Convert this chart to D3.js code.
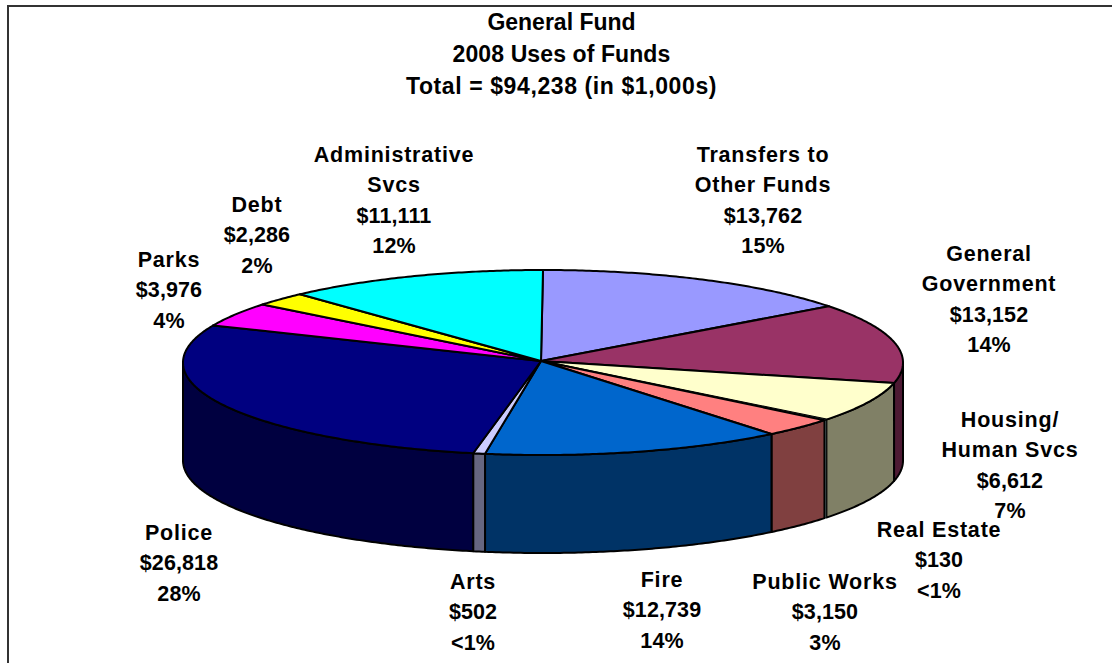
<!DOCTYPE html>
<html><head><meta charset="utf-8">
<script src="https://cdn.jsdelivr.net/npm/d3@7"></script>
<style>html,body{margin:0;padding:0;background:#fff}svg{display:block}
text{font-family:"Liberation Sans",Arial,sans-serif;font-weight:700;fill:#000;text-anchor:middle;dominant-baseline:central}</style>
</head><body><svg id="c" width="1112" height="663"></svg>
<script>
const titleLines=["General Fund","2008 Uses of Funds","Total = $94,238 (in $1,000s)"];
const titleSpacing=[0,0.1,0.6];
const categories=["Transfers to Other Funds","General Government","Housing/ Human Svcs","Real Estate","Public Works","Fire","Arts","Police","Parks","Debt","Administrative Svcs"];
const values=[13762,13152,6612,130,3150,12739,502,26818,3976,2286,11111];
const percents=["15%","14%","7%","<1%","3%","14%","<1%","28%","4%","2%","12%"];
const labelLines=[["Transfers to","Other Funds"],["General","Government"],["Housing/","Human Svcs"],["Real Estate"],["Public Works"],["Fire"],["Arts"],["Police"],["Parks"],["Debt"],["Administrative","Svcs"]];
const topColors=["#9999FF","#993366","#FFFFCC","#CCFFFF","#FF8080","#0066CC","#CCCCFF","#000080","#FF00FF","#FFFF00","#00FFFF"];
const wallColors=["#4D4D80","#4D1A33","#808066","#668080","#804040","#003366","#666680","#000040","#800080","#808000","#008080"];
const labelPos=[[763,155],[989,254],[1010,420],[939,530],[825,582],[662,580],[473,582],[179,533],[169,260],[257,205],[394,155]];

const apexX=541,apexY=361,cx=543,cy=362.5,rx=360,ry=92.5,depth=98,lineH=30.3;
const svg=d3.select("#c");
svg.append("path").attr("d",d3.line()([[8,663],[8,6],[1112,6]])).attr("fill","none").attr("stroke","#333").attr("stroke-width",2);

const slices=d3.pie().sort(null).value(d=>d)(values);
const px=d3.scaleLinear().domain([-1,1]).range([cx-rx,cx+rx]);
const py=d3.scaleLinear().domain([-1,1]).range([cy-ry,cy+ry]);
const pt=(a,dz=0)=>[px(Math.sin(a)),py(-Math.cos(a))+dz];
const samples=(a0,a1)=>{const n=Math.max(2,Math.ceil(Math.abs(a1-a0)/0.01));return d3.range(n+1).map(i=>a0+(a1-a0)*i/n)};
const line=d3.line();
const thinIndex=categories.indexOf("Real Estate");
const strokeW=i=>i===thinIndex?0.8:2;

const wallG=svg.append("g");
slices.forEach((s,i)=>{
  const a0=Math.max(s.startAngle,Math.PI/2),a1=Math.min(s.endAngle,3*Math.PI/2);
  if(a1<=a0)return;
  const as=samples(a0,a1);
  const pts=as.map(a=>pt(a)).concat(as.slice().reverse().map(a=>pt(a,depth)));
  const p=wallG.append("path").attr("d",line(pts)+"Z").attr("fill",wallColors[i]).attr("stroke","#000").attr("stroke-width",strokeW(i)).attr("stroke-linejoin","round");
  if(i===thinIndex)p.raise();
});
const topG=svg.append("g");
slices.forEach((s,i)=>{
  const pts=[[apexX,apexY]].concat(samples(s.startAngle,s.endAngle).map(a=>pt(a)));
  const p=topG.append("path").attr("d",line(pts)+"Z").attr("fill",topColors[i]).attr("stroke","#000").attr("stroke-width",strokeW(i)).attr("stroke-linejoin","round");
  if(i===thinIndex)p.raise();
});
topG.selectAll("path").filter((d,i,n)=>i===n.length-1);

titleLines.forEach((t,i)=>svg.append("text").attr("x",561.5).attr("y",22+i*32).attr("font-size","23px").attr("letter-spacing",titleSpacing[i]+"px").text(t));
categories.forEach((c,i)=>{
  const lines=labelLines[i].map(l=>[l,0.8]).concat([["$"+d3.format(",")(values[i]),0.1],[percents[i],0.1]]);
  lines.forEach(([l,sp],j)=>svg.append("text").attr("x",labelPos[i][0]).attr("y",labelPos[i][1]+j*lineH).attr("font-size","21.5px").attr("letter-spacing",sp+"px").text(l));
});
</script></body></html>
